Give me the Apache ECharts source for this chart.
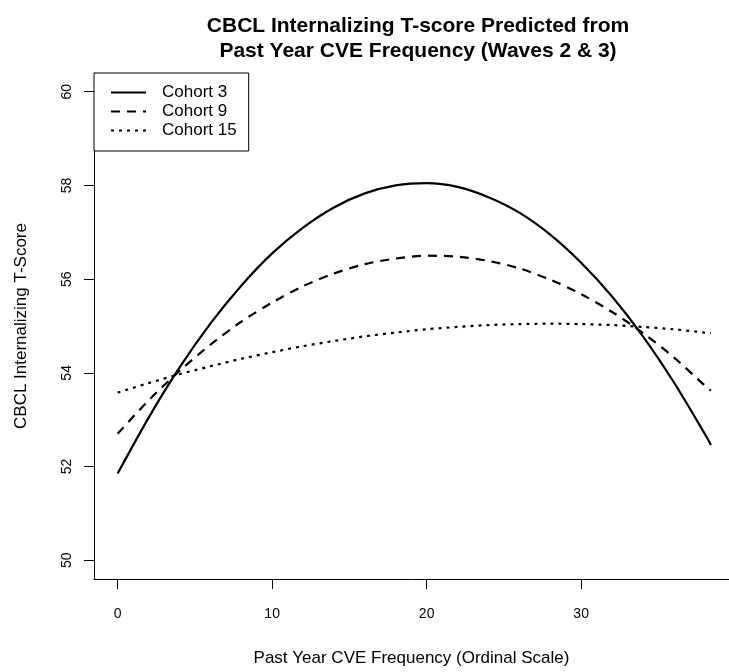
<!DOCTYPE html>
<html>
<head>
<meta charset="utf-8">
<script src="https://cdn.jsdelivr.net/npm/echarts@6/dist/echarts.min.js"></script>
<style>
  html, body { margin: 0; padding: 0; background: #fff; }
  #chart { width: 729px; height: 672px; }
</style>
</head>
<body>
<div id="chart"></div>
<script>
// Past-year CVE frequency (ordinal scale) at which the fitted curves are drawn
const cveFrequency = [0, 2, 4, 6, 8, 10, 12, 14, 16, 18, 20, 22, 24, 26, 28, 30, 32, 34, 36, 38, 38.4];

// Predicted CBCL internalizing T-scores by cohort
const cohort3 = [51.85, 53.04, 54.11, 55.05, 55.86, 56.55, 57.10, 57.53, 57.83, 58.00, 58.05,
                 57.97, 57.75, 57.42, 56.95, 56.35, 55.63, 54.78, 53.80, 52.70, 52.46];
const cohort9 = [52.70, 53.41, 54.04, 54.60, 55.09, 55.50, 55.85, 56.12, 56.32, 56.44, 56.50,
                 56.48, 56.39, 56.23, 55.99, 55.68, 55.30, 54.85, 54.33, 53.73, 53.62];
const cohort15 = [53.58, 53.78, 53.97, 54.14, 54.30, 54.44, 54.57, 54.68, 54.78, 54.86, 54.93,
                  54.98, 55.02, 55.04, 55.05, 55.04, 55.02, 54.98, 54.93, 54.86, 54.85];

const seriesNames = ['Cohort 3', 'Cohort 9', 'Cohort 15'];
const xTicks = [0, 10, 20, 30];
const yTicks = [50, 52, 54, 56, 58, 60];

const pairs = (ys) => cveFrequency.map((x, i) => [x, ys[i]]);

const font = 'Liberation Sans, Arial, Helvetica, sans-serif';
const lineStyles = [
  { type: 'solid', width: 2.2 },
  { type: [9, 7], width: 2.2 },
  { type: [3, 5], width: 2.2 }
];

const chart = echarts.init(document.getElementById('chart'), null, { renderer: 'canvas' });

chart.setOption({
  animation: false,
  backgroundColor: '#ffffff',
  title: {
    text: 'CBCL Internalizing T-score Predicted from\nPast Year CVE Frequency (Waves 2 & 3)',
    left: 413,
    top: 9,
    textAlign: 'center',
    textStyle: {
      fontFamily: font,
      fontWeight: 'bold',
      fontSize: 21,
      lineHeight: 25,
      color: '#000'
    }
  },
  legend: {
    orient: 'vertical',
    left: 94,
    top: 73,
    data: seriesNames,
    backgroundColor: '#fff',
    borderColor: '#000',
    borderWidth: 1,
    borderRadius: 0,
    padding: [11, 12, 12, 16],
    itemWidth: 35,
    itemHeight: 17,
    itemGap: 2,
    itemStyle: { opacity: 0 },
    textStyle: { fontFamily: font, fontSize: 17, color: '#000', padding: [0, 0, 0, 11] }
  },
  grid: { left: 94, right: 0, top: 73, bottom: 89, containLabel: false },
  xAxis: {
    type: 'value',
    min: -1.53,
    max: 39.57,
    name: 'Past Year CVE Frequency (Ordinal Scale)',
    nameLocation: 'middle',
    nameGap: 71,
    nameTextStyle: { fontFamily: font, fontSize: 17, color: '#000' },
    splitLine: { show: false },
    axisLine: { show: true, onZero: false, lineStyle: { color: '#000', width: 1 } },
    axisTick: { show: true, inside: false, length: 10, customValues: xTicks, lineStyle: { color: '#000' } },
    axisLabel: { customValues: xTicks, margin: 28, fontFamily: font, fontSize: 14, color: '#000' }
  },
  yAxis: {
    type: 'value',
    min: 49.6,
    max: 60.4,
    name: 'CBCL Internalizing T-Score',
    nameLocation: 'middle',
    nameRotate: 90,
    nameGap: 64,
    nameTextStyle: { fontFamily: font, fontSize: 17, color: '#000' },
    splitLine: { show: false },
    axisLine: { show: true, onZero: false, lineStyle: { color: '#000', width: 1 } },
    axisTick: { show: true, inside: false, length: 10, customValues: yTicks, lineStyle: { color: '#000' } },
    axisLabel: { customValues: yTicks, rotate: 90, margin: 20, fontFamily: font, fontSize: 14, color: '#000' }
  },
  series: [cohort3, cohort9, cohort15].map((ys, i) => ({
    name: seriesNames[i],
    type: 'line',
    data: pairs(ys),
    smooth: 0.3,
    symbol: 'none',
    color: '#000',
    lineStyle: Object.assign({ color: '#000' }, lineStyles[i]),
    z: 2
  }))
});
</script>
</body>
</html>
